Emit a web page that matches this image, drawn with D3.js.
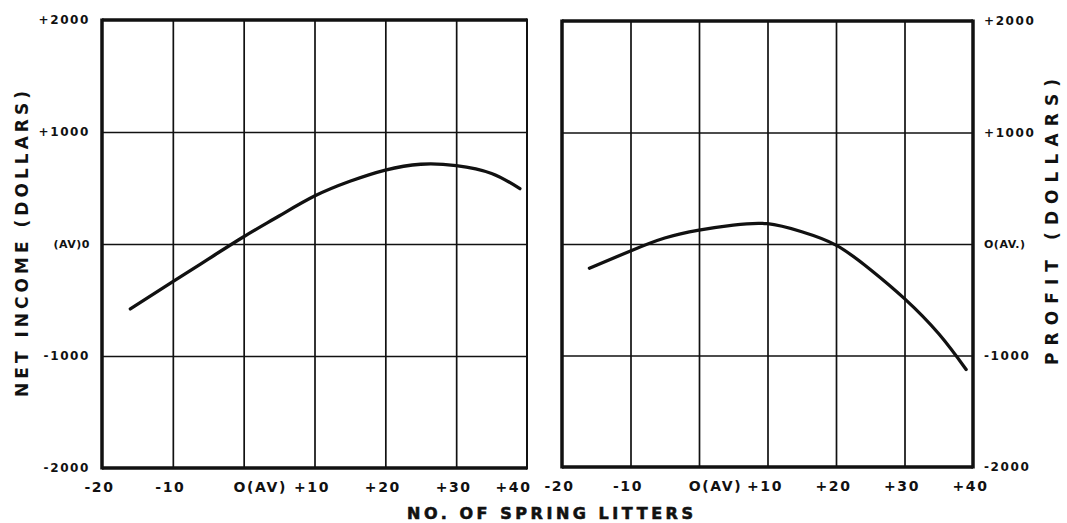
<!DOCTYPE html>
<html><head><meta charset="utf-8">
<script src="https://cdn.jsdelivr.net/npm/d3@7"></script>
<style>
html,body{margin:0;padding:0;background:#fff;}
svg{display:block;}
text{font-family:"DejaVu Sans",sans-serif;font-weight:bold;fill:#111;}
</style></head>
<body><svg id="c" width="1067" height="523"></svg>
<script>
// ---- data ----
const xTicks = [-20, -10, 0, 10, 20, 30, 40];
const xTickLabels = ["-20", "-10", "O(AV)", "+10", "+20", "+30", "+40"];
const yTicks = [-2000, -1000, 0, 1000, 2000];
const leftYLabels = ["-2000", "-1000", "(AV)0", "+1000", "+2000"];
const rightYLabels = ["-2000", "-1000", "O(AV.)", "+1000", "+2000"];
const netIncomeX = [-16, -10, -5, 0, 5, 10, 15, 20, 25, 30, 35, 39];
const netIncomeY = [-580, -336, -135, 65, 250, 428, 560, 660, 712, 700, 630, 494];
const profitX = [-16, -10, -5, 0, 5, 10, 15, 20, 25, 30, 35, 39];
const profitY = [-217, -62, 54, 125, 170, 182, 110, -10, -228, -490, -805, -1125];
const leftTitle = "NET INCOME (DOLLARS)";
const rightTitle = "PROFIT (DOLLARS)";
const xTitle = "NO. OF SPRING LITTERS";

const svg = d3.select("#c");
const ink = "#111";

const panels = [
  {x0: 102, x1: 527, y0: 20, y1: 468, xs: netIncomeX, ys: netIncomeY, yLabels: leftYLabels, side: "left", rightW: 2},
  {x0: 562, x1: 973, y0: 21, y1: 467, xs: profitX, ys: profitY, yLabels: rightYLabels, side: "right", rightW: 3.5}
];

panels.forEach(p => {
  const x = d3.scaleLinear().domain([-20, 40]).range([p.x0, p.x1]);
  const y = d3.scaleLinear().domain([-2000, 2000]).range([p.y1, p.y0]);
  const g = svg.append("g");

  // vertical grid
  g.append("g").attr("transform", `translate(0,${p.y1})`)
    .call(d3.axisBottom(x).tickValues(xTicks.slice(1, -1)).tickSize(-(p.y1 - p.y0)).tickFormat(""))
    .call(a => a.select(".domain").remove())
    .call(a => a.selectAll("line").attr("stroke", ink).attr("stroke-width", 1.7));
  // horizontal grid
  g.append("g").attr("transform", `translate(${p.x0},0)`)
    .call(d3.axisLeft(y).tickValues(yTicks.slice(1, -1)).tickSize(-(p.x1 - p.x0)).tickFormat(""))
    .call(a => a.select(".domain").remove())
    .call(a => a.selectAll("line").attr("stroke", ink).attr("stroke-width", 1.7));

  // frame
  g.append("line").attr("x1", p.x0).attr("x2", p.x1).attr("y1", p.y0).attr("y2", p.y0).attr("stroke", ink).attr("stroke-width", 3.5);
  g.append("line").attr("x1", p.x0).attr("x2", p.x1).attr("y1", p.y1).attr("y2", p.y1).attr("stroke", ink).attr("stroke-width", 3.5);
  g.append("line").attr("x1", p.x0).attr("x2", p.x0).attr("y1", p.y0 - 1.5).attr("y2", p.y1 + 1.5).attr("stroke", ink).attr("stroke-width", 3.5);
  g.append("line").attr("x1", p.x1).attr("x2", p.x1).attr("y1", p.y0 - 1.5).attr("y2", p.y1 + 1.5).attr("stroke", ink).attr("stroke-width", p.rightW);

  // x tick labels
  const xa = g.append("g").attr("transform", `translate(0,${p.y1})`)
    .call(d3.axisBottom(x).tickValues(xTicks).tickSize(0).tickPadding(14)
      .tickFormat((d, i) => xTickLabels[i]));
  xa.select(".domain").remove();
  xa.selectAll("text")
    .style("font-size", "14px").style("letter-spacing", "1.6px")
    .attr("font-family", '"DejaVu Sans",sans-serif').attr("font-weight", "bold").attr("fill", ink)
    .attr("dx", (d, i) => {
      const lbl = xTickLabels[i];
      if (lbl.startsWith("O(")) return 16;
      if (d === 40 && p.side === "left") return -14;
      return -3;
    });

  // y tick labels
  const axisY = p.side === "left" ? d3.axisLeft(y) : d3.axisRight(y);
  const ya = g.append("g").attr("transform", `translate(${p.side === "left" ? p.x0 : p.x1},0)`)
    .call(axisY.tickValues(yTicks).tickSize(0).tickPadding(p.side === "left" ? 12 : 11)
      .tickFormat((d, i) => p.yLabels[i]));
  ya.select(".domain").remove();
  ya.selectAll("text")
    .attr("font-family", '"DejaVu Sans",sans-serif').attr("font-weight", "bold").attr("fill", ink)
    .style("font-size", (d) => d === 0 ? "11px" : "12px")
    .style("letter-spacing", (d) => d === 0 ? "0.5px" : "1.6px");

  // curve
  const line = d3.line().x(d => x(d[0])).y(d => y(d[1])).curve(d3.curveNatural);
  g.append("path").datum(d3.zip(p.xs, p.ys)).attr("d", line)
    .attr("fill", "none").attr("stroke", ink).attr("stroke-width", 3.3).attr("stroke-linecap", "round");
});

// axis titles
svg.append("text").attr("transform", "translate(28,244) rotate(-90)")
  .attr("text-anchor", "middle").style("font-size", "17px")
  .attr("textLength", 306).attr("lengthAdjust", "spacing").text(leftTitle);
svg.append("text").attr("transform", "translate(1058,222) rotate(-90)")
  .attr("text-anchor", "middle").style("font-size", "17px")
  .attr("textLength", 286).attr("lengthAdjust", "spacing").text(rightTitle);
svg.append("text").attr("x", 550).attr("y", 519)
  .attr("text-anchor", "middle").style("font-size", "16px").attr("font-weight", "normal")
  .attr("stroke", ink).attr("stroke-width", 0.6)
  .attr("textLength", 286).attr("lengthAdjust", "spacing").text(xTitle);
</script></body></html>
